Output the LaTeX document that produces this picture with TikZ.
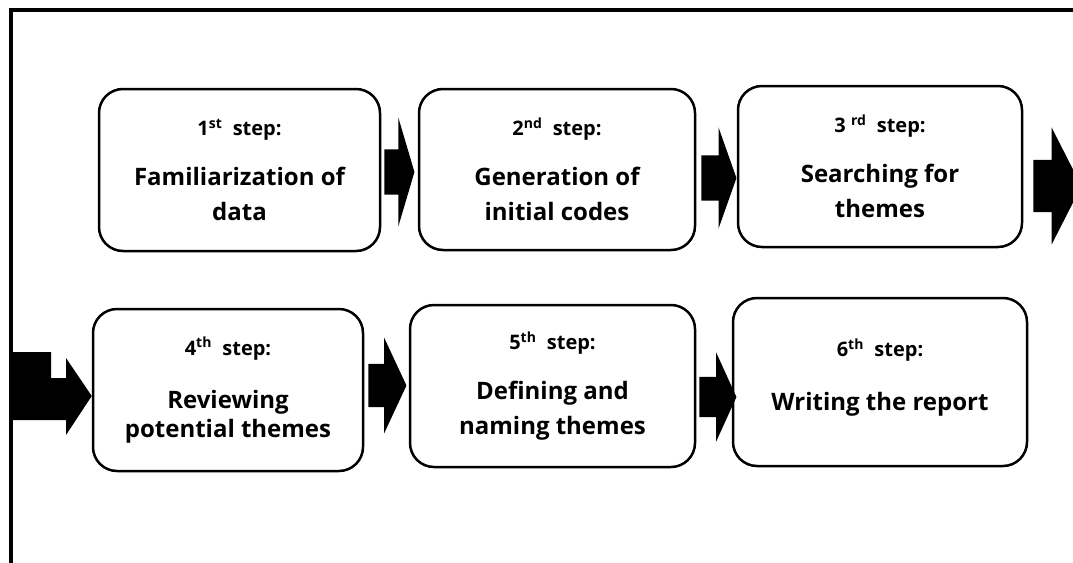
\documentclass[tikz,border=0pt]{standalone}
\usepackage{fontspec}
\setmainfont{Open Sans}
\usepackage{tikz}
\usetikzlibrary{positioning}
\usetikzlibrary{shapes.arrows, calc}
\tikzstyle{stepbox} = [rectangle, rounded corners=24pt, minimum width=280pt, minimum height=162pt, align=center, draw=black, line width=2.5pt, font=\bfseries\fontsize{24}{35}\selectfont]
\tikzstyle{blockarrow} = [single arrow, fill=black, inner xsep=0pt, single arrow head indent=0pt, anchor=tail]
\tikzstyle{frame} = [line width=4pt]
\newcommand{\stephead}[2]{{\fontsize{20}{35}\selectfont #1\textsuperscript{#2}~ step:}}

\begin{document}
\begin{tikzpicture}[x=1pt, y=-1pt]
        \useasboundingbox (0,0) rectangle (1073,562);
        \draw [frame] (10.5,575) -- (10.5,10) -- (1085,10);
        \node (s1) [stepbox, minimum width=281pt] at (239.5,170) {\stephead{1}{st}\\[15pt] Familiarization of\\ data};
        \node (s2) [stepbox, minimum width=276pt, minimum height=161pt] at (557,169.5) {\stephead{2}{nd}\\[15pt] Generation of\\ initial codes};
        \node (s3) [stepbox, minimum width=284pt, minimum height=161pt] at (880,166.5) {{\fontsize{20}{35}\selectfont 3 \textsuperscript{rd}~ step:}\\[15pt] Searching for\\ themes};
        \node (s4) [stepbox, minimum width=270pt] at (228,390) {\stephead{4}{th}\\[18pt] Reviewing\\[-6pt] potential themes};
        \node (s5) [stepbox, minimum width=285pt] at (552.5,386) {\stephead{5}{th}\\[15pt] Defining and\\ naming themes};
        \node (s6) [stepbox, minimum width=294pt, minimum height=168pt] at (880,382) {\stephead{6}{th}\\[19pt] Writing the report\\[-20pt]\phantom{x}};
        \node (a12) [blockarrow, minimum height=30pt, inner ysep=22.5pt, single arrow head extend=32pt, single arrow tip angle=147] at ($(s1.east)+(3,2)$) {};
        \node (a23) [blockarrow, minimum height=35pt, inner ysep=22.5pt, single arrow head extend=28pt, single arrow tip angle=141] at ($(s2.east)+(5,8.5)$) {};
        \node (a34) [blockarrow, minimum height=48pt, inner ysep=26pt, single arrow head extend=32.5pt, single arrow tip angle=126] at ($(s3.east)+(10,19.5)$) {};
        \node (a45) [blockarrow, minimum height=38pt, inner ysep=21.5pt, single arrow head extend=26pt, single arrow tip angle=130] at ($(s4.east)+(4,-4.5)$) {};
        \node (a56) [blockarrow, minimum height=37pt, inner ysep=20pt, single arrow head extend=24.5pt, single arrow tip angle=131] at ($(s5.east)+(3,11)$) {};
        \fill (12,352) -- (51,352) -- (51,378) -- (66,378) -- (66,358) -- (s4.west |- 0,396) -- (66,435) -- (66,420) -- (12,420) -- cycle;
\end{tikzpicture}
\end{document}
